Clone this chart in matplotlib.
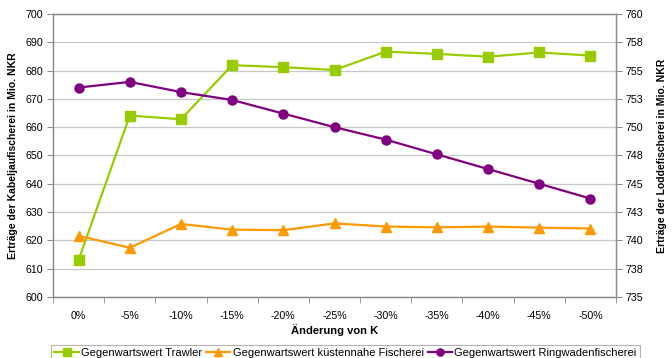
import matplotlib

matplotlib.use("Agg")
import matplotlib.pyplot as plt
import numpy as np

plt.rcParams["font.family"] = ["Liberation Sans", "DejaVu Sans"]

# Änderung von K
categories = ["0%", "-5%", "-10%", "-15%", "-20%", "-25%",
              "-30%", "-35%", "-40%", "-45%", "-50%"]
# Gegenwartswerte in Mio. NKR
trawler = [613.1, 664.1, 662.8, 681.9, 681.2, 680.2,
           686.7, 685.9, 684.9, 686.4, 685.3]
kuestennah = [621.6, 617.4, 625.8, 623.8, 623.6, 626.0,
              624.9, 624.6, 624.9, 624.5, 624.2]
ringwaden = [753.5, 754.0, 753.1, 752.4, 751.2, 750.0,
             748.9, 747.6, 746.3, 745.0, 743.7]

left_ticks = np.arange(600, 701, 10)
right_ticks = np.arange(735, 760.1, 2.5)

GREEN = "#99cc00"
ORANGE = "#ff9900"
PURPLE = "#800080"
SPINE = "#8c8c8c"

fig = plt.figure(figsize=(6.72, 3.58), dpi=100)
ax = fig.add_axes([0.0789, 0.1704, 0.8378, 0.7906])
ax2 = ax.twinx()

x = np.arange(len(categories))
h1, = ax.plot(x, trawler, color=GREEN, lw=1.6, marker="s", ms=6.5,
              label="Gegenwartswert Trawler")
h2, = ax.plot(x, kuestennah, color=ORANGE, lw=1.6, marker="^", ms=7,
              label="Gegenwartswert küstennahe Fischerei")
h3, = ax2.plot(x, ringwaden, color=PURPLE, lw=1.6, marker="o", ms=6.5,
               label="Gegenwartswert Ringwadenfischerei")

ax.set_xlim(-0.5, len(categories) - 0.5)
ax.set_ylim(600, 700)
ax2.set_ylim(735, 760)

ax.set_yticks(left_ticks)
ax.set_yticklabels([f"{v:.0f}" for v in left_ticks], fontsize=7.7)
ax2.set_yticks(right_ticks)
# Excel-style rounding of the half steps (737.5 -> 738)
ax2.set_yticklabels([f"{int(np.floor(v + 0.5))}" for v in right_ticks],
                    fontsize=7.7)

ax.set_xticks(x)
ax.set_xticklabels(categories, fontsize=7.7)
ax.set_xticks(np.arange(-0.5, len(categories)), minor=True)
ax.tick_params(axis="x", which="major", length=0, pad=10)
ax.tick_params(axis="x", which="minor", length=4, color=SPINE, direction="out")
ax.tick_params(axis="y", length=4, color=SPINE, pad=3)
ax2.tick_params(axis="y", length=4, color=SPINE, pad=3)

ax.grid(axis="y", color="#c8c8c8", lw=0.9)
ax.set_axisbelow(True)
for a in (ax, ax2):
    for s in a.spines.values():
        s.set_color(SPINE)
        s.set_linewidth(0.9)

ax.set_xlabel("Änderung von K", fontsize=8, fontweight="bold")
ax.xaxis.set_label_coords(0.5, -0.096)
ax.set_ylabel("Erträge der Kabeljaufischerei in Mio. NKR",
              fontsize=7.5, fontweight="bold")
ax.yaxis.set_label_coords(-0.062, 0.5)
ax2.set_ylabel("Erträge der Loddefischerei in Mio. NKR",
               fontsize=7.5, fontweight="bold")
ax2.yaxis.set_label_coords(1.073, 0.5)

leg = fig.legend(handles=[h1, h2, h3], loc="center",
                 bbox_to_anchor=(0.514, 0.014), ncol=3, fontsize=8,
                 frameon=True, fancybox=False, handlelength=2.2,
                 handletextpad=0.2, columnspacing=0.35, borderpad=0.3,
                 markerscale=0.8)
leg.get_frame().set_edgecolor("#a0a0a0")
leg.get_frame().set_linewidth(0.8)

fig.savefig("out.png", dpi=100)
